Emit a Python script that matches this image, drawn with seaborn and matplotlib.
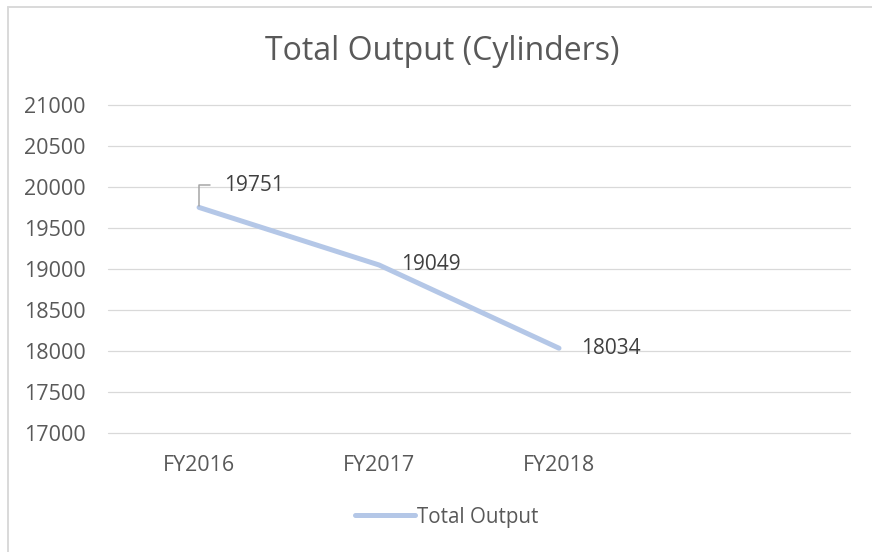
import matplotlib
matplotlib.use("Agg")
from matplotlib import pyplot as plt
from matplotlib.lines import Line2D
import pandas as pd
import seaborn as sns

# data
years = ['FY2016', 'FY2017', 'FY2018']
total_output = [19751, 19049, 18034]
y_ticks = [17000, 17500, 18000, 18500, 19000, 19500, 20000, 20500, 21000]

df = pd.DataFrame({'year': years, 'output': total_output})

sns.set_theme(style='white')
plt.rcParams['font.family'] = ['Open Sans', 'DejaVu Sans']

W, H = 872, 552
fig = plt.figure(figsize=(W / 100, H / 100), dpi=100)
ax = fig.add_axes([108 / W, 1 - 433 / H, (850 - 108) / W, (433 - 105) / H])

line_col = '#B4C7E7'
sns.lineplot(data=df, x='year', y='output', ax=ax, color=line_col,
             linewidth=3.6, solid_capstyle='round', label='Total Output',
             legend=False, sort=False)

ax.set_ylim(17000, 21000)
ax.set_xlim(-0.506, 3.617)
ax.set_yticks(y_ticks)
ax.set_yticklabels([str(v) for v in y_ticks])
ax.grid(axis='y', color='#D9D9D9', linewidth=0.9)
ax.grid(axis='x', visible=False)
ax.set_axisbelow(True)
for gl in ax.get_ygridlines():
    gl.set_clip_on(False)
for s in ax.spines.values():
    s.set_visible(False)
ax.tick_params(axis='y', length=0, pad=16, labelsize=15.5, labelcolor='#595959')
ax.tick_params(axis='x', length=0, pad=16, labelsize=15.5, labelcolor='#595959')
ax.set_xlabel('')
ax.set_ylabel('')

# data labels
lab_kw = dict(fontsize=15, color='#404040', ha='left', va='center',
              textcoords='offset pixels')
ax.annotate(str(total_output[0]), xy=(0, total_output[0]), xytext=(25, 22),
            arrowprops=dict(arrowstyle='-', color='#A6A6A6', lw=1.1,
                            connectionstyle='angle,angleA=0,angleB=90,rad=0',
                            shrinkA=8, shrinkB=1),
            **lab_kw)
for i in range(1, len(years)):
    ax.annotate(str(total_output[i]), xy=(i, total_output[i]), xytext=(22, 0), **lab_kw)

fig.text(442 / W, 1 - 51 / H, 'Total Output (Cylinders)', ha='center', va='center',
         fontsize=23, color='#595959')

handle = Line2D([0], [0], color=line_col, linewidth=3.6, solid_capstyle='round')
fig.legend([handle], ['Total Output'], loc='center', bbox_to_anchor=(447 / W, 1 - 517 / H),
           frameon=False, fontsize=14.8, labelcolor='#595959', handlelength=2.9,
           handletextpad=0.1)

# chart border (left and top visible)
border = '#D9D9D9'
fig.add_artist(Line2D([7.5 / W, 7.5 / W], [0, 1 - 6.5 / H], color=border, lw=1.4,
                      transform=fig.transFigure))
fig.add_artist(Line2D([7.5 / W, 1], [1 - 6.5 / H, 1 - 6.5 / H], color=border, lw=1.4,
                      transform=fig.transFigure))

fig.savefig('out.png', dpi=100)
